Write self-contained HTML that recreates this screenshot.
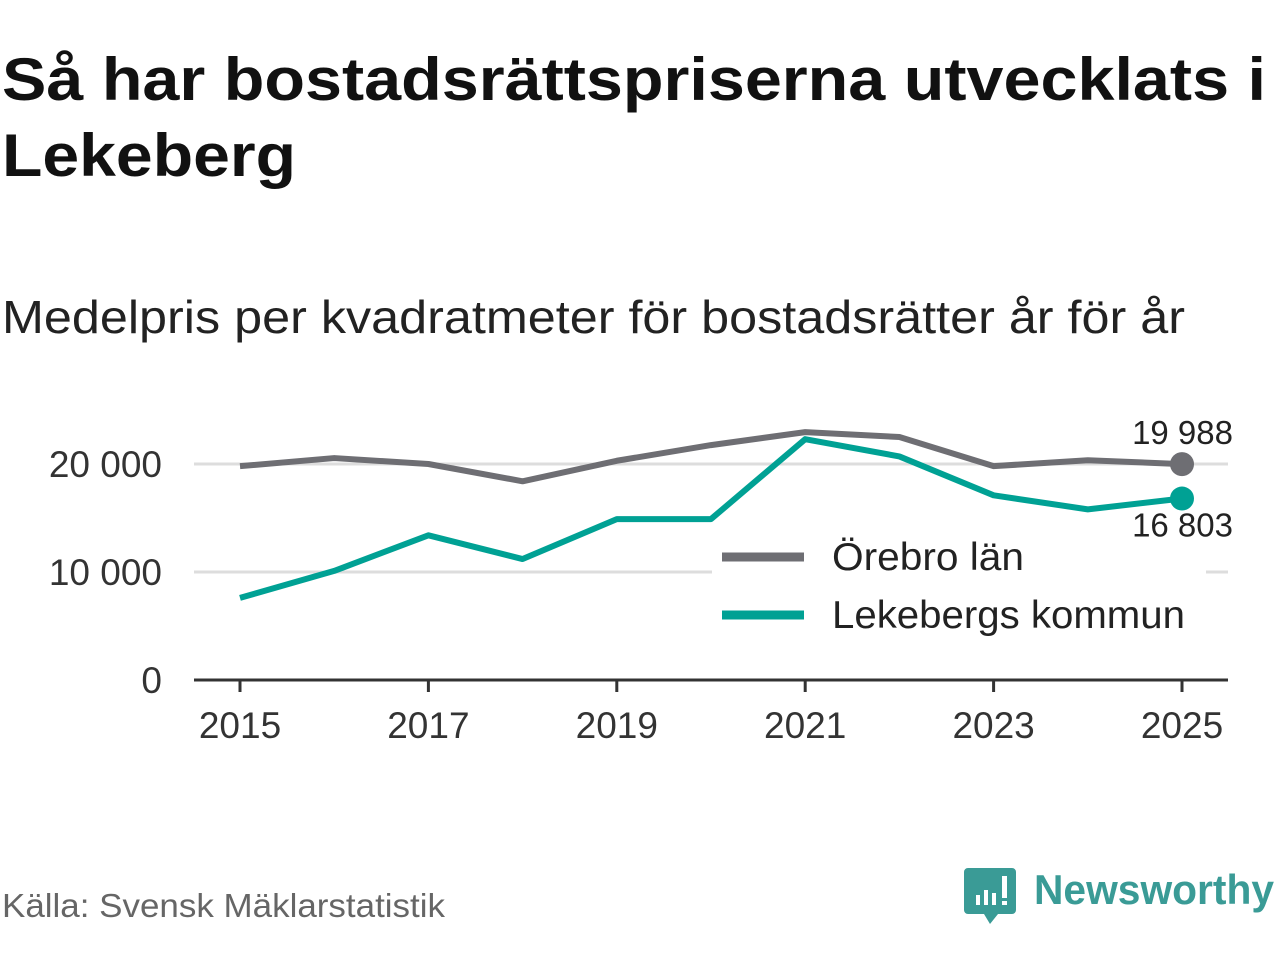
<!DOCTYPE html>
<html><head><meta charset="utf-8"><style>
body{margin:0;background:#fff;width:1280px;height:960px;overflow:hidden;font-family:"Liberation Sans",sans-serif;}
</style></head><body>
<svg width="1280" height="960" xmlns="http://www.w3.org/2000/svg" font-family="Liberation Sans, sans-serif">
<text x="2" y="100" font-size="60" font-weight="bold" fill="#111" textLength="1264" lengthAdjust="spacingAndGlyphs">Så har bostadsrättspriserna utvecklats i</text>
<text x="2" y="176" font-size="60" font-weight="bold" fill="#111" textLength="294" lengthAdjust="spacingAndGlyphs">Lekeberg</text>
<text x="2" y="333" font-size="46" fill="#222" textLength="1183" lengthAdjust="spacingAndGlyphs">Medelpris per kvadratmeter för bostadsrätter år för år</text>
<g id="grid"></g>
<g id="legendbg"></g>
<g id="series"></g>
<g id="axes"></g>
<g id="legend"></g>
<text x="2" y="917" font-size="33" fill="#666" textLength="443" lengthAdjust="spacingAndGlyphs">Källa: Svensk Mäklarstatistik</text>
<g>
<path d="M968 868 h44 a4 4 0 0 1 4 4 v38 a4 4 0 0 1 -4 4 h-14 l-8 10 l-6 -10 h-16 a4 4 0 0 1 -4 -4 v-38 a4 4 0 0 1 4 -4z" fill="#3a9b96"/>
<rect x="976" y="895" width="4" height="10" fill="#fff"/><rect x="984" y="890" width="4" height="15" fill="#fff"/><rect x="992" y="893" width="4" height="12" fill="#fff"/><rect x="1002" y="876" width="5" height="22" fill="#fff"/><rect x="1002" y="901" width="5" height="4" fill="#fff"/>
<text x="1034" y="904" font-size="42" font-weight="bold" fill="#3a9b96" textLength="240" lengthAdjust="spacingAndGlyphs">Newsworthy</text>
</g>
</svg>
<script>
const years=[2015,2016,2017,2018,2019,2020,2021,2022,2023,2024,2025];
const orebro=[19800,20550,20000,18400,20300,21750,22950,22500,19800,20350,19988];
const lekeberg=[7600,10100,13400,11200,14900,14900,22300,20700,17100,15800,16803];
const yTicks=[0,10000,20000];
const yTickLabels=["0","10 000","20 000"];
const xTicks=[2015,2017,2019,2021,2023,2025];
const NS="http://www.w3.org/2000/svg";
const x=v=>240+(v-2015)*(1182-240)/10;
const y=v=>680-v*0.0108;
function mk(tag,attrs,parent,txt){const e=document.createElementNS(NS,tag);for(const k in attrs)e.setAttribute(k,attrs[k]);if(txt!==undefined)e.textContent=txt;document.getElementById(parent).appendChild(e);return e;}
yTicks.forEach((t,i)=>{
 if(t>0){const g=mk('line',{x1:194,x2:1228,y1:y(t),y2:y(t),stroke:'#ddd','stroke-width':3},'grid');
 
 }
 const l=mk('text',{x:162,y:y(t)+13,'font-size':37,fill:'#333','text-anchor':'end'},'axes',yTickLabels[i]);
 
 
});
const ax=mk('line',{x1:194,x2:1228,y1:680,y2:680,stroke:'#333','stroke-width':3},'axes');


xTicks.forEach(t=>{
 const tk=mk('line',{x1:x(t),x2:x(t),y1:680,y2:692,stroke:'#333','stroke-width':3},'axes');
 
 
 const l=mk('text',{x:x(t),y:738,'font-size':37,fill:'#333','text-anchor':'middle'},'axes',t);
 
 
});
function series(vals,color,name){
 const p=mk('polyline',{points:vals.map((v,i)=>x(years[i])+','+y(v)).join(' '),fill:'none',stroke:color,'stroke-width':6,'stroke-linejoin':'round'},'series');
 
 
 const n=vals.length-1;
 const c=mk('circle',{cx:x(years[n]),cy:y(vals[n]),r:12,fill:color},'series');
 
 
}
series(orebro,'#6e6e73','orebro');
series(lekeberg,'#00a194','lekeberg');
const fmt=v=>String(v).replace(/\B(?=(\d{3})+(?!\d))/g,' ');
const l1=mk('text',{x:1233,y:y(orebro[10])-20,'font-size':33,fill:'#222','text-anchor':'end'},'series',fmt(orebro[10]));


const l2=mk('text',{x:1233,y:y(lekeberg[10])+38,'font-size':33,fill:'#222','text-anchor':'end'},'series',fmt(lekeberg[10]));


const bg=mk('rect',{x:712,y:530,width:494,height:108,fill:'#fff'},'legendbg');


[['Örebro län','#6e6e73',557,192],['Lekebergs kommun','#00a194',615,353]].forEach(([t,c,yy,w])=>{
 const ln=mk('line',{x1:722,x2:804,y1:yy,y2:yy,stroke:c,'stroke-width':9},'legend');
 
 
 const tx=mk('text',{x:832,y:yy+13,'font-size':39,fill:'#222',textLength:w,lengthAdjust:'spacingAndGlyphs'},'legend',t);
 
 
});
</script>
</body></html>
